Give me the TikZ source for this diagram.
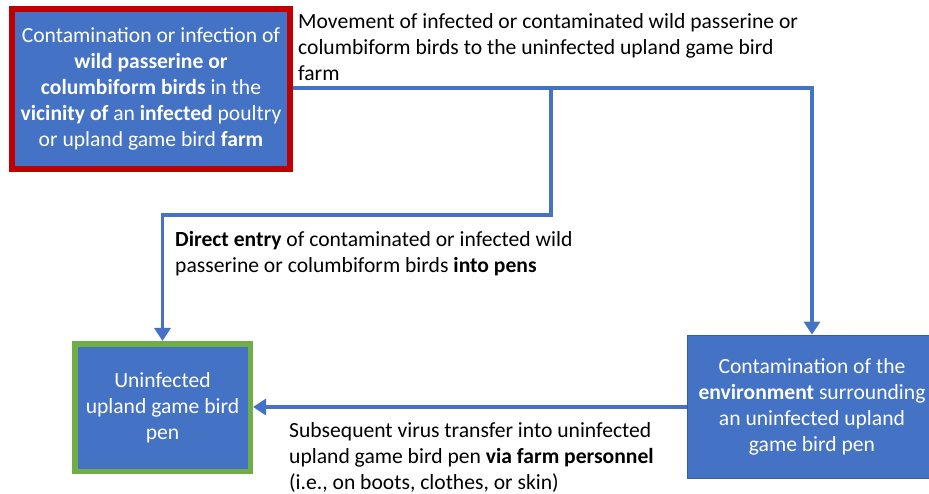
\documentclass[tikz,border=0pt]{standalone}
\usepackage{fontspec}
\setmainfont{Carlito}
\usetikzlibrary{arrows.meta}
\definecolor{boxblue}{HTML}{4472C4}
\definecolor{alertred}{HTML}{C00000}
\definecolor{safegreen}{HTML}{70AD47}
\begin{document}
\begin{tikzpicture}[x=1pt,y=-1pt,
  txt/.style={font=\fontsize{21.6}{26}\selectfont},
  box/.style={txt, fill=boxblue, text=white, align=center, inner sep=0pt},
  note/.style={txt, text=black, align=left, inner sep=0pt, anchor=west},
  flow/.style={draw=boxblue, line width=3.6pt,
    -{Triangle[width=16pt,length=13pt]}}]
  \useasboundingbox (0,0) rectangle (929,494);
  \clip (0,0) rectangle (929,494);
  \fill[white] (0,0) rectangle (929,494);

  % source of infection
  \node[box, draw=alertred, line width=6pt, minimum width=278pt, minimum height=160pt]
    (src) at (151,89)
    {Contamination or infection of\\
     \textbf{wild passerine or}\\
     \textbf{columbiform birds} in the\\
     \textbf{vicinity of} an \textbf{infected} poultry\\
     or upland game bird \textbf{farm}};

  % uninfected pen
  \node[box, draw=safegreen, line width=5.5pt, minimum width=175.5pt, minimum height=127.5pt]
    (pen) at (162.5,407.5)
    {Uninfected\\ upland game bird\\ pen};

  % contaminated surroundings
  \node[box, draw=boxblue!80!black, line width=0.8pt, minimum width=250pt, minimum height=143pt]
    (env) at (812,406.5)
    {Contamination of the\\
     \textbf{environment} surrounding\\
     an uninfected upland\\
     game bird pen};

  % routes
  \coordinate (split) at (551,88);
  \coordinate (elbow) at (551,215);
  \draw[flow] (src.east |- split) -| (env.north);
  \draw[flow] (split) -- (elbow) -| (pen.north);
  \draw[flow] (env.west |- 0,407) -- (pen.east |- 0,407);

  % route labels
  \node[note] (lmove) at (298,47)
    {Movement of infected or contaminated wild passerine or\\
     columbiform birds to the uninfected upland game bird\\
     farm};
  \node[note] (lentry) at (175,254)
    {\textbf{Direct entry} of contaminated or infected wild\\
     passerine or columbiform birds \textbf{into pens}};
  \node[note] (lstaff) at (289,457)
    {Subsequent virus transfer into uninfected\\
     upland game bird pen \textbf{via farm personnel}\\
     (i.e., on boots, clothes, or skin)};
\end{tikzpicture}
\end{document}
